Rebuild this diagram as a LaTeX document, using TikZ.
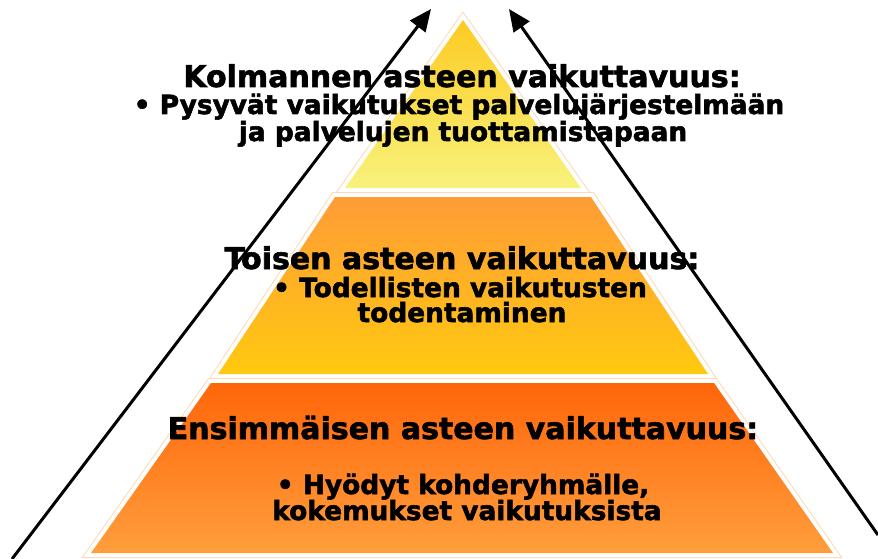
\documentclass[tikz,border=0pt]{standalone}
\usepackage{fontspec}
\setmainfont{DejaVu Sans}[BoldFont={DejaVu Sans Bold},BoldFeatures={FakeBold=2}]
\usetikzlibrary{arrows.meta}
\definecolor{peach}{HTML}{FDD9B5}
\definecolor{t1}{HTML}{FDCB22}
\definecolor{t2}{HTML}{F8F27C}
\definecolor{m1}{HTML}{FF9C36}
\definecolor{m2}{HTML}{FFC910}
\definecolor{b1}{HTML}{FF660A}
\definecolor{b2}{HTML}{FF9E3C}
\tikzset{
  lvl/.style 2 args={preaction={draw=peach,line width=10pt},
                     preaction={draw=white,line width=8pt},
                     top color=#1, bottom color=#2, line join=miter},
  ttl/.style={font=\bfseries\fontsize{30}{34}\selectfont, anchor=base, inner sep=0pt},
  bul/.style={font=\bfseries\fontsize{26.4}{30}\selectfont, anchor=base, inner sep=0pt},
  arr/.style={line width=3pt, -{Triangle[length=22pt,width=19pt]}}
}
\begin{document}
\begin{tikzpicture}[x=1pt,y=-1pt]
\useasboundingbox (0,0) rectangle (878,559);
% pyramid levels
\path[lvl={t1}{t2}] (463,20) -- (581,188) -- (345,188) -- cycle;
\path[lvl={m1}{m2}] (335,197) -- (591,197) -- (708,374) -- (218,374) -- cycle;
\path[lvl={b1}{b2}] (211,383) -- (714,383) -- (833,553) -- (91,553) -- cycle;
% arrows
\coordinate (la0) at (12,559);
\coordinate (la1) at (431,9);
\coordinate (ra0) at (878,535);
\coordinate (ra1) at (509,9);
\draw[arr] (la0) -- (la1);
\draw[arr] (ra0) -- (ra1);
% texts
\node[ttl] (k1) at (462,87) {Kolmannen asteen vaikuttavuus:};
\node[bul] (k2) at (459,114) {• Pysyvät vaikutukset palvelujärjestelmään};
\node[bul] (k3) at (463,141) {ja palvelujen tuottamistapaan};
\node[ttl] (t1n) at (462,269) {Toisen asteen vaikuttavuus:};
\node[bul] (t2n) at (460,297) {• Todellisten vaikutusten};
\node[bul] (t3n) at (462,322) {todentaminen};
\node[ttl] (e1) at (463,439) {Ensimmäisen asteen vaikuttavuus:};
\node[bul] (e2) at (463,494) {• Hyödyt kohderyhmälle,};
\node[bul] (e3) at (467,520) {kokemukset vaikutuksista};
\end{tikzpicture}
\end{document}
